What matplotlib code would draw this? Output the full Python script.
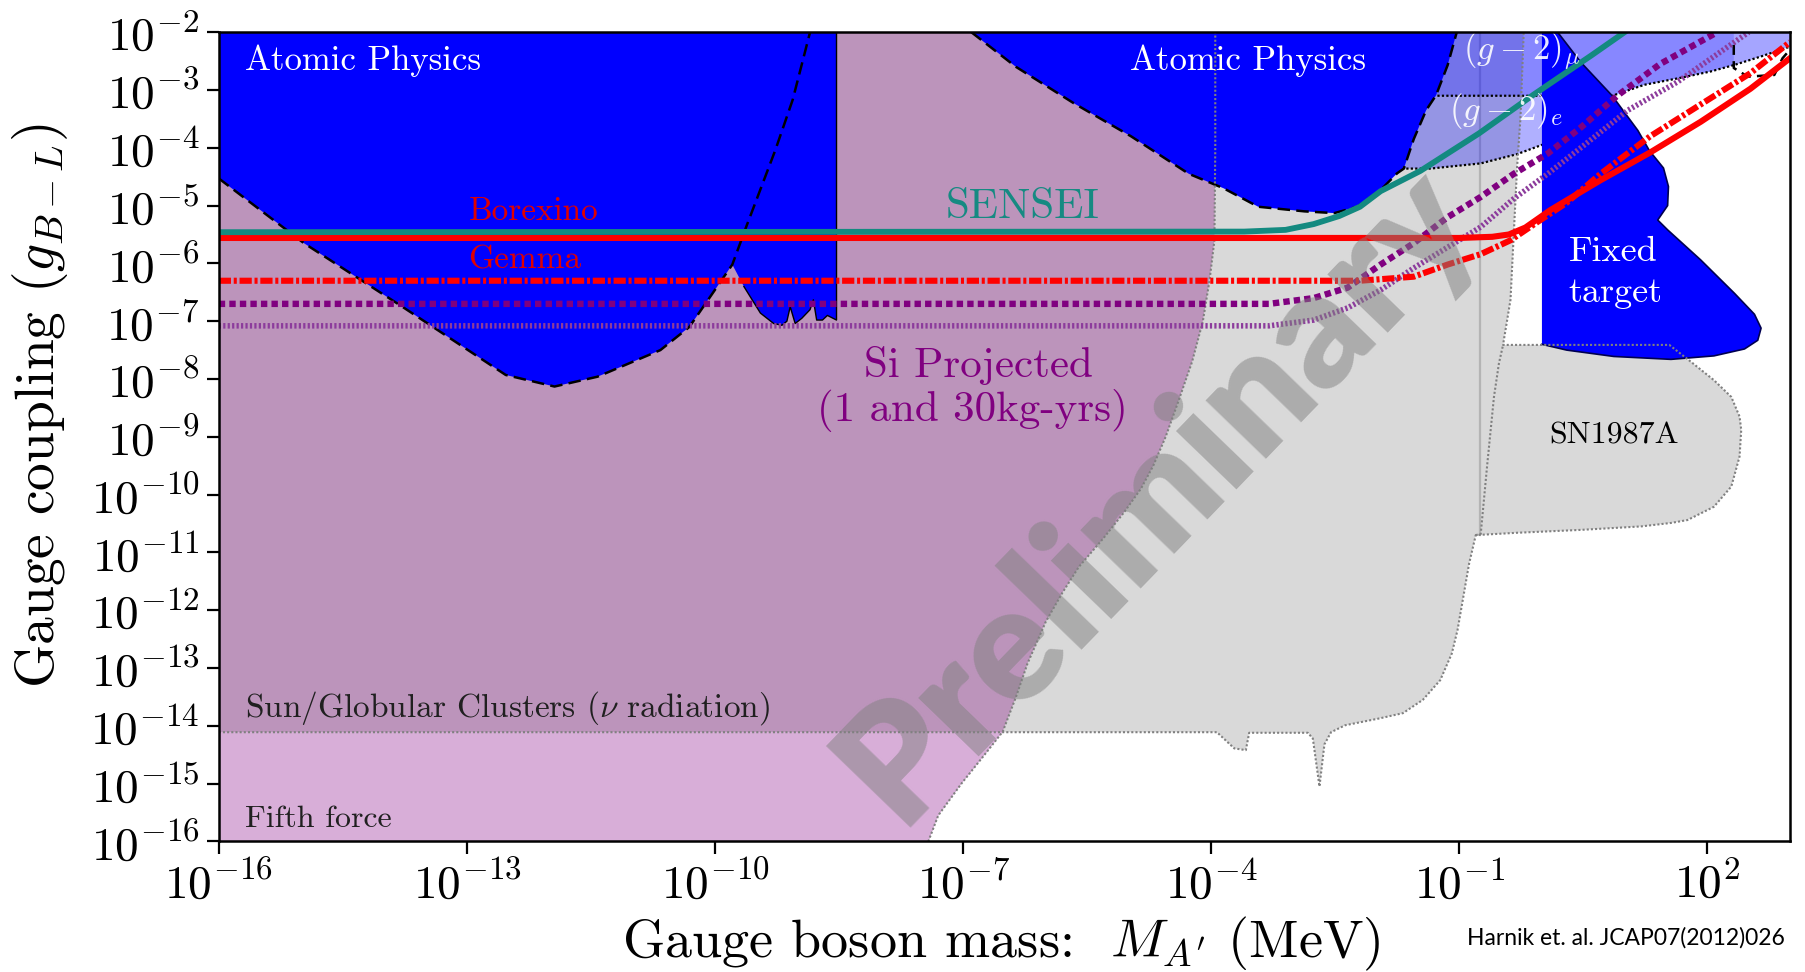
import numpy as np
import matplotlib
matplotlib.use("Agg")
import matplotlib.pyplot as plt
from matplotlib.patches import Rectangle
from matplotlib.ticker import FixedLocator, FuncFormatter, NullLocator

plt.rcParams['font.family'] = 'cmr10'
plt.rcParams['mathtext.fontset'] = 'cm'
plt.rcParams['axes.formatter.use_mathtext'] = True

# ---------------- data (log10 of mass in MeV, log10 of coupling) ----------------
xtick_exps = [-16, -13, -10, -7, -4, -1, 2]
ytick_exps = list(range(-16, -1))

# Fifth force exclusion boundary (region to the left)
ff_x = [-7.42, -7.30, -7.02, -6.74, -6.52, -6.36, -6.22, -6.00, -5.80, -5.60, -5.30, -5.05, -4.85,
        -4.70, -4.55, -4.40, -4.23, -4.10, -4.02, -3.96, -3.95, -3.95]
ff_y = [-16.0, -15.55, -15.0, -14.5, -14.1, -13.5, -12.92, -12.2, -11.7, -11.25, -10.75, -10.3, -9.9,
        -9.5, -9.0, -8.4, -7.7, -7.0, -6.3, -5.6, -4.0, -2.0]
sun_level = -14.11

# Stellar (Sun / Globular clusters) + SN1987A grey region
grey_x = [-16.0, -3.93, -3.72, -3.58, -3.54, -2.83, -2.77, -2.69, -2.63, -2.55, -2.38, -1.96, -1.68,
          -1.44, -1.23, -1.09, -1.02, -0.88, -0.80, -0.30, 0.47, 1.20, 1.56, 1.76, 2.08, 2.29, 2.39,
          2.41, 2.39, 2.29, 2.08, 1.80, 1.54, -0.47, -0.38, -0.34, -0.30, -0.26, -0.22, -16.0]
grey_y = [-14.11, -14.11, -14.39, -14.42, -14.12, -14.12, -14.22, -15.05, -14.32, -14.11, -13.99,
          -13.87, -13.78, -13.55, -13.21, -12.75, -12.34, -11.19, -10.70, -10.66, -10.61, -10.55,
          -10.49, -10.44, -10.21, -9.86, -9.34, -8.88, -8.65, -8.31, -8.02, -7.70, -7.41, -7.41,
          -6.63, -5.48, -4.33, -3.50, -2.00, -2.00]
sn_left_x = [-0.80, -0.74, -0.66, -0.58, -0.52, -0.47]
sn_left_y = [-10.70, -10.68, -9.46, -8.31, -7.73, -7.41]
grey_line_x = -0.75

# Atomic physics, low-mass region
ap1_x = [-16.0, -8.53, -8.53, -8.64, -8.70, -8.77, -8.81, -8.85, -8.89, -8.95, -9.03, -9.09, -9.13,
         -9.19, -9.29, -9.45, -9.65, -9.79, -10.03, -10.31, -10.66, -11.42, -11.94, -12.53, -13.78,
         -14.97, -16.0]
ap1_y = [-2.0, -2.0, -6.98, -6.90, -6.98, -6.98, -6.63, -6.80, -6.86, -6.95, -7.04, -6.75, -7.0,
         -7.07, -7.04, -6.86, -6.40, -6.02, -6.52, -7.10, -7.50, -7.96, -8.13, -7.93, -6.75, -5.65,
         -4.53]
ap1_dash_x = [-16.0, -14.97, -13.78, -12.53, -11.94, -11.42, -10.66, -10.31, -10.03, -9.79, -9.62,
              -9.27, -9.06, -8.85]
ap1_dash_y = [-4.53, -5.65, -6.75, -7.93, -8.13, -7.96, -7.50, -7.10, -6.52, -6.02, -5.36, -4.04,
              -3.17, -2.0]

# Atomic physics, higher-mass region
ap2_x = [-6.90, -6.36, -5.66, -4.97, -4.27, -3.85, -3.43, -2.87, -2.51, -2.23, -1.95, -1.75, -1.67,
         -1.55, -1.40, -1.28, -1.14, -1.03]
ap2_y = [-2.0, -2.60, -3.23, -3.80, -4.45, -4.70, -5.02, -5.10, -5.13, -5.02, -4.73, -4.44, -4.36,
         -3.85, -3.35, -3.09, -2.57, -2.0]

# (g-2)_e and (g-2)_mu bands
ge_low_x = [-2.5, -1.35, -0.74, -0.30, 0.00, 0.25, 0.47, 0.65, 0.85]
ge_low_y = [-4.36, -4.36, -4.27, -4.11, -3.95, -3.80, -3.63, -3.42, -3.10]
gm_low_x = [-2.5, 0.85, 1.24, 1.64, 2.04, 2.32, 2.65, 3.0]
gm_low_y = [-3.10, -3.10, -2.91, -2.80, -2.68, -2.57, -2.42, -2.25]
corner_x = [2.32, 2.32, 2.49, 2.81, 2.91, 3.0]
corner_y = [-2.22, -2.62, -2.77, -2.74, -2.45, -2.30]

# Fixed target
ft_x = [0.0, 0.19, 0.47, 0.85, 1.16, 1.30, 1.47, 1.53, 1.52, 1.40, 1.52, 1.92, 2.33, 2.57, 2.65,
        2.61, 2.45, 2.08, 1.56, 0.87, 0.30, 0.0]
ft_y = [-2.0, -2.0, -2.52, -3.10, -3.70, -4.05, -4.35, -4.67, -5.0, -5.25, -5.42, -5.94, -6.52,
        -6.88, -7.12, -7.33, -7.48, -7.60, -7.66, -7.61, -7.50, -7.40]

# Sensitivity / limit curves
sensei_x = [-16.0, -3.6, -3.1, -2.76, -2.45, -2.2, -1.95, -1.47, -0.76, -0.1, 0.6, 1.0]
sensei_y = [-5.46, -5.45, -5.42, -5.32, -5.18, -5.02, -4.75, -4.40, -3.75, -3.08, -2.40, -2.0]
borex_x = [-16.0, -1.0, -0.6, -0.4, -0.2, 0.1, 0.31, 0.71, 1.31, 1.92, 2.52, 3.0]
borex_y = [-5.56, -5.56, -5.54, -5.50, -5.38, -5.08, -4.90, -4.56, -4.08, -3.55, -2.98, -2.45]
gemma_x = [-16.0, -2.2, -1.55, -1.14, -0.74, -0.38, -0.05, 0.3, 0.71, 1.31, 1.92, 2.52, 3.0]
gemma_y = [-6.30, -6.30, -6.23, -6.02, -5.84, -5.60, -5.28, -4.95, -4.45, -3.80, -3.25, -2.71, -2.17]
si1_x = [-16.0, -3.3, -2.76, -2.35, -1.95, -1.55, -1.14, -0.74, -0.34, 0.07, 0.47, 0.91, 1.43, 2.12]
si1_y = [-6.70, -6.70, -6.60, -6.42, -6.02, -5.65, -5.20, -4.85, -4.45, -4.10, -3.65, -3.10, -2.55, -2.0]
si30_x = [-16.0, -3.3, -2.76, -2.35, -1.95, -1.55, -1.14, -0.74, -0.34, 0.07, 0.47, 1.04, 1.64, 2.45, 2.5]
si30_y = [-7.08, -7.08, -6.98, -6.77, -6.46, -6.08, -5.72, -5.37, -4.88, -4.45, -4.0, -3.35, -2.86, -2.05, -2.0]

# ---------------- figure ----------------
def P(a):
    return 10.0 ** np.asarray(a, dtype=float)

fig = plt.figure(figsize=(18.05, 9.72), dpi=100)
ax = fig.add_axes([0.1212, 0.1343, 0.8705, 0.8326])
ax.set_xscale('log')
ax.set_yscale('log')
ax.set_xlim(1e-16, 1e3)
ax.set_ylim(1e-16, 1e-2)

GREY = '#d9d9d9'
PINK = '#d8aed8'
DPURP = '#bc94bb'
BLUE = '#0000ff'
EDGE = '#808080'
dotted = (0, (1, 1))

# grey stellar region
ax.fill(P(grey_x), P(grey_y), color=GREY, lw=0, zorder=1)

# fifth force
ffX = P(ff_x + [-16.0, -16.0])
ffY = P(ff_y + [-2.0, -16.0])
ax.fill(ffX, ffY, color=DPURP, lw=0, zorder=2)
pk = ax.fill(ffX, ffY, color=PINK, lw=0, zorder=2.1)[0]
pk.set_clip_path(Rectangle((1e-16, 1e-16), 1e3, 10 ** sun_level - 1e-16, transform=ax.transData))

# (g-2) bands
ax.plot([10 ** grey_line_x] * 2, [10 ** -10.7, 1e-2], color='#b4b4b4', lw=1.6, zorder=2.5)
ax.fill(P(ge_low_x + [0.85, -2.5]), P(ge_low_y + [-3.10, -3.10]), color=BLUE, alpha=0.31, lw=0, zorder=3)
ax.fill(P(gm_low_x + [3.0, -2.5]), P(gm_low_y + [-2.0, -2.0]), color=BLUE, alpha=0.47, lw=0, zorder=3)
ax.fill(P(corner_x + [3.0, 2.32]), P(corner_y + [-2.0, -2.0]), color='white', alpha=0.25, lw=0, zorder=3.1)
ax.plot(P(ge_low_x), P(ge_low_y), color='black', lw=1.6, ls=dotted, zorder=3.2)
ax.plot(P(gm_low_x), P(gm_low_y), color='black', lw=1.6, ls=dotted, zorder=3.2)
ax.plot(P(corner_x), P(corner_y), color='black', lw=1.8, ls=(0, (4, 2.5)), zorder=3.2)

# atomic physics
ax.fill(P(ap1_x), P(ap1_y), color=BLUE, lw=0, zorder=4)
ax.plot(P(ap1_x[1:17]), P(ap1_y[1:17]), color='black', lw=1.0, zorder=4.2)
ax.plot(P(ap1_dash_x), P(ap1_dash_y), color='black', lw=1.8, ls=(0, (5, 2.5)), zorder=4.3)
ax.fill(P(ap2_x + [-6.9]), P(ap2_y + [-2.0]), color=BLUE, lw=0, zorder=4)
ax.plot(P(ap2_x), P(ap2_y), color='black', lw=1.8, ls=(0, (5, 2.5)), zorder=4.3)

# fixed target
ax.fill(P(ft_x), P(ft_y), color=BLUE, lw=0, zorder=4)
ax.plot(P(ft_x[1:]), P(ft_y[1:]), color='#000050', lw=1.2, zorder=4.2)

# dotted outlines of stellar / fifth force regions
ax.plot(P(grey_x[:-1]), P(grey_y[:-1]), color=EDGE, lw=1.5, ls=dotted, zorder=4.5)
ax.plot(P(sn_left_x), P(sn_left_y), color=EDGE, lw=1.5, ls=dotted, zorder=4.5)
ax.plot(P(ff_x), P(ff_y), color=EDGE, lw=1.5, ls=dotted, zorder=4.5)

# curves
ax.plot(P(si30_x), P(si30_y), color='#8c3c9c', lw=4.0, ls=(0, (0.4, 0.4)), dash_capstyle='butt', zorder=6)
ax.plot(P(si1_x), P(si1_y), color='#800080', lw=4.6, ls=(0, (1.0, 0.65)), dash_capstyle='butt', zorder=6)
ax.plot(P(gemma_x), P(gemma_y), color='#ff0000', lw=4.4, ls=(0, (2.0, 0.45, 0.5, 0.45)), dash_capstyle='butt', zorder=6.1)
ax.plot(P(borex_x), P(borex_y), color='#ff0000', lw=4.4, zorder=6.2)
ax.plot(P(sensei_x), P(sensei_y), color='#138a80', lw=4.2, zorder=6.3)

# labels
def T(lx, ly, s, **kw):
    ax.text(10 ** lx, 10 ** ly, s, zorder=8, **kw)

T(-15.68, -2.50, 'Atomic Physics', color='white', fontsize=25, ha='left', va='center')
T(-3.56, -2.50, 'Atomic Physics', color='white', fontsize=25, ha='center', va='center')
T(-12.98, -5.11, 'Borexino', color='#e00000', fontsize=24, ha='left', va='center')
T(-12.98, -5.94, 'Gemma', color='#e00000', fontsize=24, ha='left', va='center')
T(-6.28, -5.03, 'SENSEI', color='#168a82', fontsize=31, ha='center', va='center')
T(-6.81, -7.76, 'Si Projected', color='#800080', fontsize=31, ha='center', va='center')
T(-6.89, -8.55, '(1 and 30kg-yrs)', color='#800080', fontsize=31, ha='center', va='center')
T(0.32, -5.80, 'Fixed', color='white', fontsize=26, ha='left', va='center')
T(0.32, -6.52, 'target', color='white', fontsize=26, ha='left', va='center')
T(0.87, -8.99, 'SN1987A', color='black', fontsize=23, ha='center', va='center')
T(-15.68, -13.69, r'Sun/Globular Clusters ($\nu$ radiation)', color='#202020', fontsize=24, ha='left', va='center')
T(-15.68, -15.61, 'Fifth force', color='#202020', fontsize=23, ha='left', va='center')
T(-0.96, -2.34, r'$(g-2)_\mu$', color='white', alpha=0.9, fontsize=25, ha='left', va='center')
T(-1.12, -3.37, r'$(g-2)_e$', color='white', alpha=0.9, fontsize=25, ha='left', va='center')

ax.text(0.597, 0.431, 'Preliminary', transform=ax.transAxes, rotation=46, rotation_mode='anchor',
        ha='center', va='center', fontsize=116, fontweight='heavy', family='Lato',
        color='#808080', alpha=0.5, zorder=10)

# axes styling
ax.xaxis.set_major_locator(FixedLocator(P(xtick_exps)))
ax.yaxis.set_major_locator(FixedLocator(P(ytick_exps)))
ax.xaxis.set_minor_locator(NullLocator())
ax.yaxis.set_minor_locator(NullLocator())
fmt = FuncFormatter(lambda v, p: r'$10^{%d}$' % int(round(np.log10(v))))
ax.xaxis.set_major_formatter(fmt)
ax.yaxis.set_major_formatter(fmt)
ax.tick_params(axis='both', which='major', direction='out', length=9, width=1.6, labelsize=34, pad=5)
for s in ax.spines.values():
    s.set_linewidth(1.8)
    s.set_zorder(12)

ax.set_xlabel(r"Gauge boson mass:  $M_{A'}$ (MeV)", fontsize=39)
ax.xaxis.set_label_coords(0.498, -0.1267)
ax.xaxis.label.set_va('center')
ax.set_ylabel(r'Gauge coupling $(g_{B-L})$', fontsize=40)
ax.yaxis.set_label_coords(-0.1137, 0.539)
ax.yaxis.label.set_va('center')

fig.text(0.813, 0.035, 'Harnik et. al. JCAP07(2012)026', family='Lato', fontsize=16.5,
         ha='left', va='center', color='black')

fig.savefig('out.png', dpi=100)
